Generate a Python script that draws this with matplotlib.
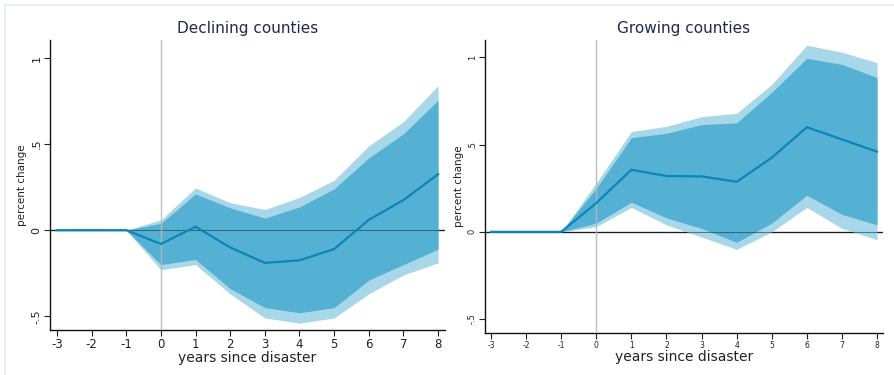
import matplotlib
matplotlib.use("Agg")
import matplotlib.pyplot as plt
from matplotlib.lines import Line2D

years = [-3, -2, -1, 0, 1, 2, 3, 4, 5, 6, 7, 8]
ytick_vals = [-0.5, 0, 0.5, 1]
ytick_labels = ["-.5", "0", ".5", "1"]

# Declining counties
dec_mean = [0, 0, 0, -0.08, 0.02, -0.10, -0.19, -0.175, -0.11, 0.06, 0.175, 0.325]
dec_in_hi = [0, 0, 0, 0.04, 0.21, 0.13, 0.07, 0.135, 0.24, 0.42, 0.56, 0.755]
dec_in_lo = [0, 0, 0, -0.20, -0.17, -0.34, -0.45, -0.48, -0.45, -0.29, -0.20, -0.11]
dec_out_hi = [0, 0, 0, 0.06, 0.245, 0.16, 0.12, 0.19, 0.29, 0.49, 0.63, 0.84]
dec_out_lo = [0, 0, 0, -0.23, -0.20, -0.37, -0.51, -0.54, -0.51, -0.37, -0.26, -0.19]

# Growing counties
gro_mean = [0, 0, 0, 0.165, 0.356, 0.32, 0.318, 0.287, 0.425, 0.60, 0.53, 0.46]
gro_in_hi = [0, 0, 0, 0.25, 0.54, 0.565, 0.615, 0.625, 0.80, 0.995, 0.96, 0.885]
gro_in_lo = [0, 0, 0, 0.05, 0.17, 0.08, 0.02, -0.06, 0.05, 0.21, 0.10, 0.04]
gro_out_hi = [0, 0, 0, 0.28, 0.575, 0.605, 0.66, 0.68, 0.845, 1.07, 1.03, 0.97]
gro_out_lo = [0, 0, 0, 0.03, 0.14, 0.04, -0.03, -0.10, 0.0, 0.14, 0.02, -0.045]

OUTER = "#a7d7e8"
INNER = "#55b1d3"
LINE = "#0c86b7"
TITLE = "#1f2a4d"

fig = plt.figure(figsize=(8.95, 3.75), dpi=100)

# light page frame
fig.add_artist(Line2D([5 / 895, 1], [1 - 5 / 375, 1 - 5 / 375], transform=fig.transFigure,
                      color="#e6ecf0", lw=1.2))
fig.add_artist(Line2D([5 / 895, 5 / 895], [0, 1 - 5 / 375], transform=fig.transFigure,
                      color="#e6ecf0", lw=1.2))

panels = [
    dict(rect=[50 / 895, 45 / 375, 395 / 895, 290 / 375], title="Declining counties",
         m=dec_mean, ih=dec_in_hi, il=dec_in_lo, oh=dec_out_hi, ol=dec_out_lo,
         xfs=8.5, yfs=8, xlim=(-3.2, 8.2), ylim=(-0.58, 1.105)),
    dict(rect=[485 / 895, 42 / 375, 398 / 895, 293 / 375], title="Growing counties",
         m=gro_mean, ih=gro_in_hi, il=gro_in_lo, oh=gro_out_hi, ol=gro_out_lo,
         xfs=5.5, yfs=6, xlim=(-3.17, 8.17), ylim=(-0.58, 1.10)),
]

for p in panels:
    ax = fig.add_axes(p["rect"])
    ax.fill_between(years, p["ol"], p["oh"], color=OUTER, lw=0, zorder=2)
    ax.fill_between(years, p["il"], p["ih"], color=INNER, lw=0, zorder=3)
    ax.axhline(0, color="black", lw=0.9, zorder=1)
    ax.axhline(0, color="#1a3a48", lw=0.8, alpha=0.6, zorder=4)
    ax.axvline(0, color="#b8b8b8", lw=1.0, zorder=4, alpha=0.9)
    ax.plot(years, p["m"], color=LINE, lw=1.6, zorder=5)
    ax.set_xlim(*p["xlim"])
    ax.set_ylim(*p["ylim"])
    ax.set_xticks(years)
    ax.set_xticklabels([str(v) for v in years], fontsize=p["xfs"], color="#222222")
    ax.set_yticks(ytick_vals)
    ax.set_yticklabels(ytick_labels, fontsize=p["yfs"], rotation=90, va="center",
                       color="#222222")
    ax.tick_params(axis="both", length=4, width=0.8, pad=2, colors="#222222")
    for s in ("top", "right"):
        ax.spines[s].set_visible(False)
    for s in ("left", "bottom"):
        ax.spines[s].set_linewidth(1.0)
        ax.spines[s].set_color("#111111")
    ax.set_xlabel("years since disaster", fontsize=10, color="#222222", labelpad=0)
    ax.set_ylabel("percent change", fontsize=7.5, color="#222222", labelpad=3)
    ax.set_title(p["title"], fontsize=11, color=TITLE, pad=5)

fig.savefig("out.png", dpi=100)
